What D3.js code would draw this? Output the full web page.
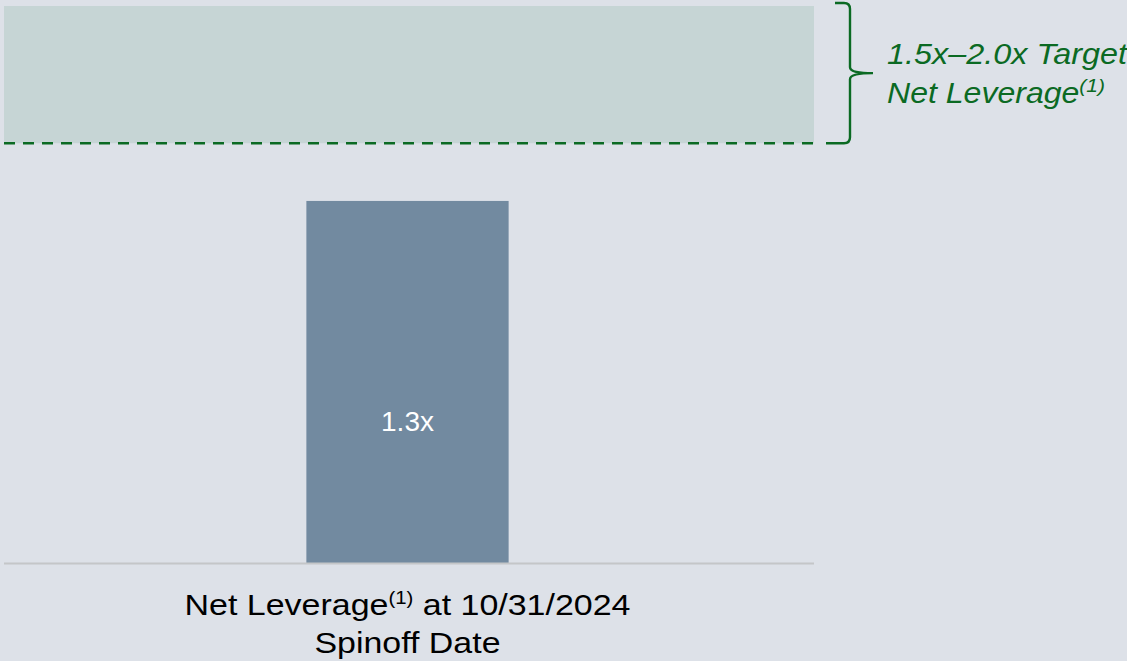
<!DOCTYPE html>
<html>
<head>
<meta charset="utf-8">
<script src="https://cdn.jsdelivr.net/npm/d3@7"></script>
<style>
  html, body { margin: 0; padding: 0; background: #dde1e8; }
  svg { display: block; font-family: "Liberation Sans", Arial, Helvetica, sans-serif; }
</style>
</head>
<body>
<svg id="chart" width="1127" height="661"></svg>
<script>
// ---- data ----
const categories = ["Net Leverage at 10/31/2024 Spinoff Date"];
const values = [1.3];
const valueLabels = ["1.3x"];
const targetRange = [1.5, 2.0];
const targetLabelLines = ["1.5x\u20132.0x Target", "Net Leverage"];

// ---- layout ----
const W = 1127, H = 661;
const plotLeft = 4, plotRight = 814;
const baseY = 563, topY = 6;

const svg = d3.select("#chart");

const y = d3.scaleLinear().domain([0, targetRange[1]]).range([baseY, topY]);
const x = d3.scaleBand().domain(categories).range([plotLeft, 811]).paddingInner(0).paddingOuter(1.495);

// background
svg.append("rect").attr("x", 0).attr("y", 0).attr("width", W).attr("height", H).attr("fill", "#dde1e8");

// target band
const bandTop = y(targetRange[1]);
const bandBot = y(targetRange[0]) - 2;
svg.append("rect")
  .attr("x", plotLeft).attr("y", bandTop)
  .attr("width", plotRight - plotLeft).attr("height", bandBot - bandTop)
  .attr("fill", "#c6d5d5");

// dashed line at lower bound
svg.append("line")
  .attr("x1", plotLeft).attr("x2", plotRight)
  .attr("y1", bandBot).attr("y2", bandBot)
  .attr("stroke", "#0b6a23").attr("stroke-width", 2.5)
  .attr("stroke-dasharray", "11,8");

// bracket
const bx = 850, bTop = 3, bBot = bandBot, bMid = (bTop + bBot) / 2;
const r = 6;
const bracketPath = d3.path();
bracketPath.moveTo(835, bTop);
bracketPath.lineTo(bx - r, bTop);
bracketPath.quadraticCurveTo(bx, bTop, bx, bTop + r);
bracketPath.lineTo(bx, bMid - r);
bracketPath.quadraticCurveTo(bx, bMid, bx + 23, bMid);
bracketPath.moveTo(bx + 23, bMid);
bracketPath.quadraticCurveTo(bx, bMid, bx, bMid + r);
bracketPath.lineTo(bx, bBot - r);
bracketPath.quadraticCurveTo(bx, bBot, bx - r, bBot);
bracketPath.lineTo(826, bBot);
svg.append("path").attr("d", bracketPath.toString())
  .attr("fill", "none").attr("stroke", "#0b6a23").attr("stroke-width", 2.4);

// target label
const tl = svg.append("g").attr("fill", "#0b6a23").attr("font-style", "italic")
  .attr("font-size", 29);
tl.append("text").attr("x", 887).attr("y", 64)
  .attr("textLength", 240).attr("lengthAdjust", "spacingAndGlyphs")
  .text(targetLabelLines[0]);
const t2 = tl.append("text").attr("x", 887).attr("y", 103)
  .attr("textLength", 218).attr("lengthAdjust", "spacingAndGlyphs");
t2.append("tspan").text(targetLabelLines[1]);
t2.append("tspan").attr("font-size", 19).attr("dy", -11).text("(1)");

// bar
svg.selectAll("rect.bar").data(values).join("rect")
  .attr("class", "bar")
  .attr("x", (d, i) => x(categories[i]))
  .attr("width", x.bandwidth())
  .attr("y", d => y(d))
  .attr("height", d => baseY - y(d))
  .attr("fill", "#728aa0");

// value label
svg.selectAll("text.val").data(values).join("text")
  .attr("class", "val")
  .attr("x", (d, i) => x(categories[i]) + x.bandwidth() / 2)
  .attr("y", d => y(d * 0.365))
  .attr("text-anchor", "middle")
  .attr("fill", "#ffffff").attr("font-size", 28)
  .text((d, i) => valueLabels[i]);

// baseline
svg.append("line")
  .attr("x1", plotLeft).attr("x2", plotRight)
  .attr("y1", baseY + 0.5).attr("y2", baseY + 0.5)
  .attr("stroke", "#c4c6c8").attr("stroke-width", 2);

// category label
const cx = x(categories[0]) + x.bandwidth() / 2;
const c1 = svg.append("text").attr("x", cx).attr("y", 615).attr("text-anchor", "middle")
  .attr("fill", "#000").attr("font-size", 30)
  .attr("textLength", 446).attr("lengthAdjust", "spacingAndGlyphs");
c1.append("tspan").text("Net Leverage");
c1.append("tspan").attr("font-size", 18).attr("dy", -11).text("(1)");
c1.append("tspan").attr("dy", 11).text(" at 10/31/2024");
svg.append("text").attr("x", cx).attr("y", 653).attr("text-anchor", "middle")
  .attr("fill", "#000").attr("font-size", 30)
  .attr("textLength", 186).attr("lengthAdjust", "spacingAndGlyphs")
  .text("Spinoff Date");
</script>
</body>
</html>
